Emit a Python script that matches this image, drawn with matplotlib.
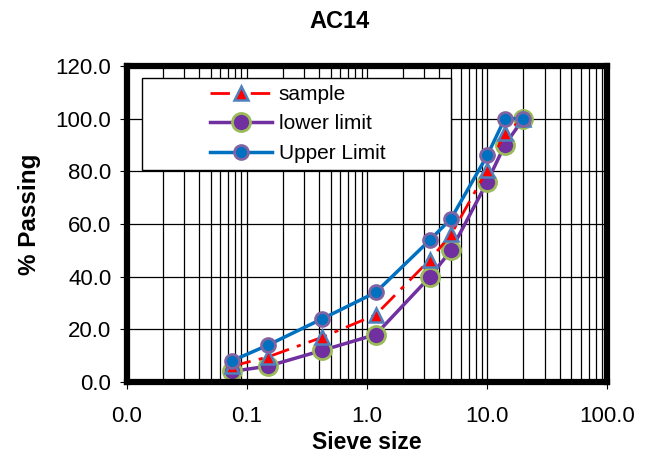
import matplotlib
matplotlib.use("Agg")
import matplotlib.pyplot as plt
from matplotlib.patches import Rectangle
from matplotlib.ticker import FixedLocator, FuncFormatter, LogLocator, NullFormatter

plt.rcParams['font.family'] = ['Liberation Sans', 'DejaVu Sans']

# sieve sizes (mm) and % passing
sieve = [0.075, 0.15, 0.425, 1.18, 3.35, 5.0, 10.0, 14.0, 20.0]
sample = [6.0, 9.5, 17.0, 25.5, 46.5, 56.0, 80.5, 94.5, 100.0]
lower = [4.0, 6.0, 12.0, 18.0, 40.0, 50.0, 76.0, 90.0, 100.0]
upper = [8.0, 14.0, 24.0, 34.0, 54.0, 62.0, 86.0, 100.0, 100.0]

x_ticks = [0.01, 0.1, 1.0, 10.0, 100.0]
x_labels = ["0.0", "0.1", "1.0", "10.0", "100.0"]
y_ticks = [0, 20, 40, 60, 80, 100, 120]

fig = plt.figure(figsize=(6.49, 4.58), dpi=100)
ax = fig.add_axes([0.195, 0.166, 0.741, 0.69])

ax.set_xscale("log")
ax.set_xlim(0.01, 100)
ax.set_ylim(0, 120)

ax.xaxis.set_major_locator(FixedLocator(x_ticks))
ax.xaxis.set_major_formatter(FuncFormatter(lambda v, p: x_labels[x_ticks.index(v)] if v in x_ticks else ""))
ax.xaxis.set_minor_locator(LogLocator(base=10, subs=range(2, 10), numticks=20))
ax.xaxis.set_minor_formatter(NullFormatter())
ax.set_yticks(y_ticks)
ax.set_yticklabels([f"{v:.1f}" for v in y_ticks])

ax.grid(True, which="major", axis="both", color="black", lw=0.9)
ax.grid(True, which="minor", axis="x", color="black", lw=0.9)
ax.set_axisbelow(True)

ax.tick_params(axis="both", which="major", direction="out", length=5, width=0.8,
               labelsize=16, pad=6)
ax.tick_params(axis="x", which="major", pad=12)
ax.tick_params(axis="x", which="minor", length=0)
for s in ax.spines.values():
    s.set_linewidth(4.5)
    s.set_zorder(6)

l1, = ax.plot(sieve, sample, color="red", lw=2, linestyle=(0, (7, 3, 1.5, 3)),
              marker="^", ms=10, mfc="red", mec="#4F81BD", mew=1.8, zorder=4,
              label="sample")
l2, = ax.plot(sieve, lower, color="#7030A0", lw=2.5, marker="o", ms=13,
              mfc="#7030A0", mec="#9BBB59", mew=2, zorder=3, label="lower limit")
l3, = ax.plot(sieve, upper, color="#0070C0", lw=2.5, marker="o", ms=10,
              mfc="#0070C0", mec="#8064A2", mew=2, zorder=5, label="Upper Limit")

# legend box
ax.add_patch(Rectangle((0.033, 0.671), 0.641, 0.291, transform=ax.transAxes,
                       facecolor="white", edgecolor="black", lw=1, zorder=2.5))
leg = ax.legend(handles=[l1, l2, l3], loc="center",
                bbox_to_anchor=(0.035, 0.671, 0.641, 0.291),
                frameon=False, fontsize=15, handlelength=3.0, handletextpad=0.3,
                labelspacing=0.5, borderaxespad=0)
leg.set_zorder(7)

fig.text(340 / 649, 1 - 22 / 458, "AC14", fontsize=17, fontweight="bold",
         ha="center", va="center")
ax.set_xlabel("Sieve size", fontsize=16.5, fontweight="bold")
ax.xaxis.set_label_coords(0.5, -0.155)
ax.set_ylabel("% Passing", fontsize=17.5, fontweight="bold")
ax.yaxis.set_label_coords(-0.178, 0.53)

fig.savefig("out.png", dpi=100)
